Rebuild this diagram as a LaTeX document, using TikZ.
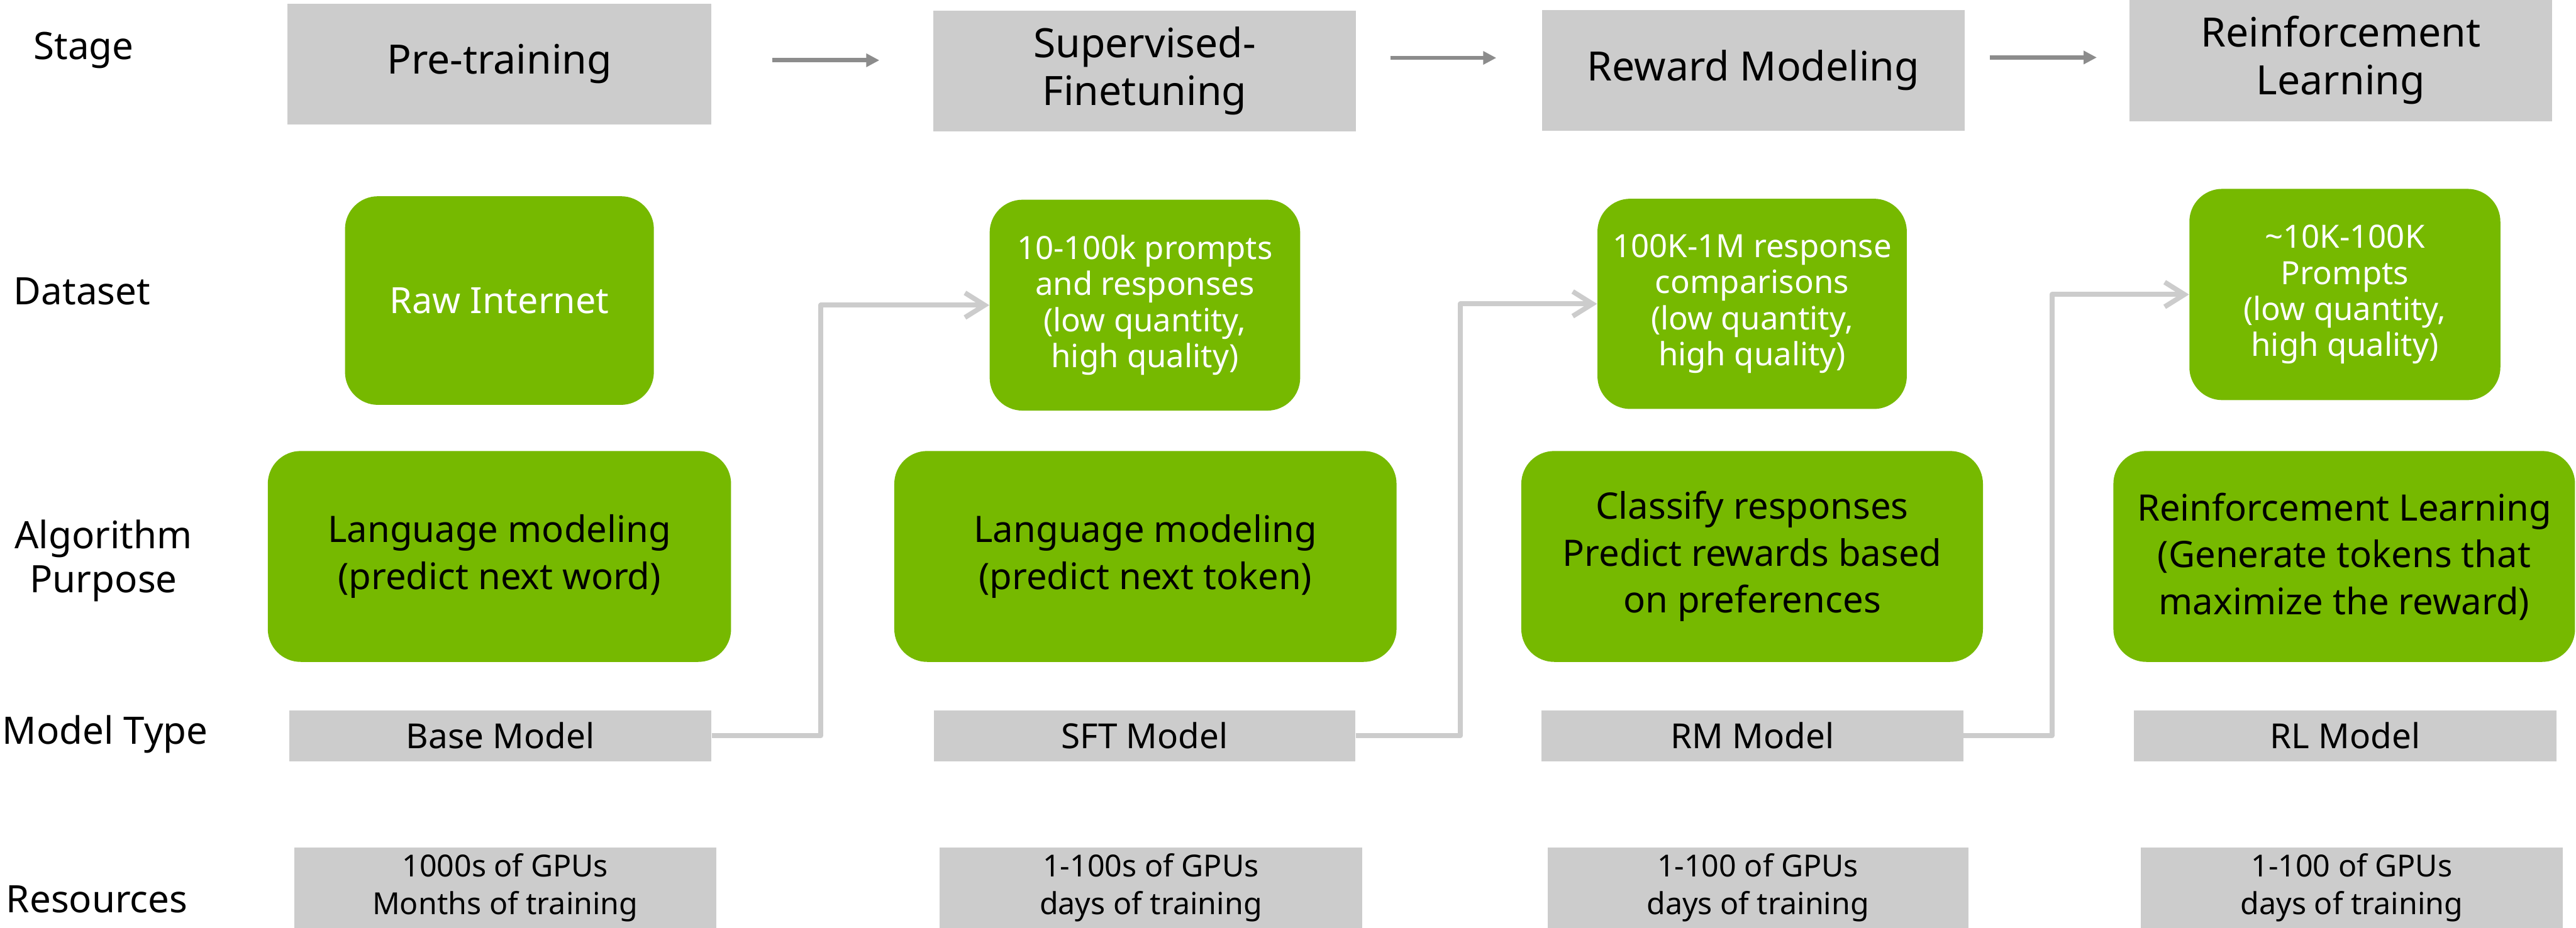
\documentclass[tikz,border=0pt]{standalone}
\usepackage{fontspec}
\setmainfont{Noto Sans}
\usetikzlibrary{arrows.meta,calc}
\definecolor{nvgreen}{HTML}{76B900}
\definecolor{boxgray}{HTML}{CCCCCC}
\definecolor{arrgray}{HTML}{8C8C8C}
\definecolor{conngray}{HTML}{CCCCCC}
\newcommand{\fs}[2]{\fontsize{#1pt}{#2pt}\selectfont}
\tikzset{
  graybox/.style={fill=boxgray, inner sep=0pt, align=center, text=black},
  greenbox/.style={fill=nvgreen, inner sep=0pt, align=center, rounded corners=20pt},
  rowlabel/.style={align=center, text=black, inner sep=0pt, font=\fs{23}{27}},
  stagetxt/.style={font=\fs{24.6}{29}},
  datatxt/.style={text=white, font=\fs{19.5}{22}},
  algtxt/.style={text=black, font=\fs{22.2}{28.5}},
  modeltxt/.style={font=\fs{21}{24}},
  restxt/.style={font=\fs{18.5}{23}},
  stagearrow/.style={draw=arrgray, line width=2.6pt, -{Triangle[length=8pt,width=7.8pt]}},
  conn/.style={draw=conngray, line width=3pt, line join=round, -{Straight Barb[length=12pt,width=15pt,line width=3pt]}},
}
\begin{document}
\begin{tikzpicture}[x=1pt,y=-1pt]
\useasboundingbox (0,0) rectangle (1568,565);
\fill[white] (0,0) rectangle (1568,565);

% row labels
\node[rowlabel] (lstage) at (51,30.5) {Stage};
\node[rowlabel] (ldata) at (50,177.5) {Dataset};
\node[rowlabel] (lalg) at (63,341.5) {Algorithm\\Purpose};
\node[rowlabel] (lmodel) at (64,447) {Model Type};
\node[rowlabel] (lres) at (59,547.5) {Resources};

% stage boxes
\node[graybox, stagetxt, minimum width=258pt, minimum height=73.5pt] (s1) at (304,39) {Pre-training};
\node[graybox, stagetxt, minimum width=257.5pt, minimum height=73.5pt] (s2) at (696.75,43.25) {Supervised-\\Finetuning};
\node[graybox, stagetxt, minimum width=257.5pt, minimum height=73.5pt] (s3) at (1067.25,42.75) {Reward Modeling};
\node[graybox, stagetxt, minimum width=257.5pt, minimum height=74pt] (s4) at (1424.75,36.75) {Reinforcement\\Learning};

% stage arrows
\draw[stagearrow] ([xshift=37pt,yshift=2.3pt]s1.east) -- ([xshift=-32.5pt,yshift=2.3pt]s1.east -| s2.west);
\draw[stagearrow] ([xshift=20.5pt,yshift=8pt]s2.east) -- ([xshift=-27.5pt,yshift=8pt]s2.east -| s3.west);
\draw[stagearrow] ([xshift=15pt,yshift=7.75pt]s3.east) -- ([xshift=-19.5pt,yshift=7.75pt]s3.east -| s4.west);

% dataset boxes
\node[greenbox, datatxt, font=\fs{22}{24}, minimum width=188pt, minimum height=127pt] (d1) at (304,183) {Raw Internet};
\node[greenbox, datatxt, minimum width=189pt, minimum height=128.4pt] (d2) at (696.9,185.8) {10-100k prompts\\and responses\\(low quantity,\\high quality)};
\node[greenbox, datatxt, minimum width=188.3pt, minimum height=128pt] (d3) at (1066.5,185) {100K-1M response\\comparisons\\(low quantity,\\high quality)};
\node[greenbox, datatxt, minimum width=189.3pt, minimum height=128.6pt] (d4) at (1427.3,179.3) {\textasciitilde 10K-100K\\Prompts\\(low quantity,\\high quality)};

% algorithm boxes
\node[greenbox, algtxt, minimum width=282pt, minimum height=128.4pt] (a1) at (304,338.8) {Language modeling\\(predict next word)};
\node[greenbox, algtxt, minimum width=305.7pt, minimum height=128.4pt] (a2) at (697.2,338.8) {Language modeling\\(predict next token)};
\node[greenbox, algtxt, minimum width=281pt, minimum height=128.4pt] (a3) at (1066.5,338.8) {Classify responses\\Predict rewards based\\on preferences};
\node[greenbox, algtxt, minimum width=281pt, minimum height=128.4pt] (a4) at (1426.9,338.8) {Reinforcement Learning\\(Generate tokens that\\maximize the reward)};

% model type boxes
\node[graybox, modeltxt, minimum width=257pt, minimum height=31pt] (m1) at (304.5,447.9) {Base Model};
\node[graybox, modeltxt, minimum width=256.5pt, minimum height=31pt] (m2) at (696.75,447.9) {SFT Model};
\node[graybox, modeltxt, minimum width=256.7pt, minimum height=31pt] (m3) at (1066.65,447.9) {RM Model};
\node[graybox, modeltxt, minimum width=257pt, minimum height=31pt] (m4) at (1427.5,447.9) {RL Model};

% resources boxes
\node[graybox, restxt, minimum width=257pt, minimum height=49pt] (r1) at (307.5,540.5) {1000s of GPUs\\Months of training};
\node[graybox, restxt, minimum width=257pt, minimum height=49pt] (r2) at (700.5,540.5) {1-100s of GPUs\\days of training};
\node[graybox, restxt, minimum width=256pt, minimum height=49pt] (r3) at (1070,540.5) {1-100 of GPUs\\days of training};
\node[graybox, restxt, minimum width=257pt, minimum height=49pt] (r4) at (1431.5,540.5) {1-100 of GPUs\\days of training};

% connectors
\coordinate (k1) at (499.6,0);
\coordinate (k2) at (889,0);
\coordinate (k3) at (1249,0);
\draw[conn] (m1.east) -| (k1 |- d2.west) -- (d2.west);
\draw[conn] (m2.east) -| (k2 |- d3.west) -- (d3.west);
\draw[conn] (m3.east) -| (k3 |- d4.west) -- (d4.west);
\end{tikzpicture}
\end{document}
